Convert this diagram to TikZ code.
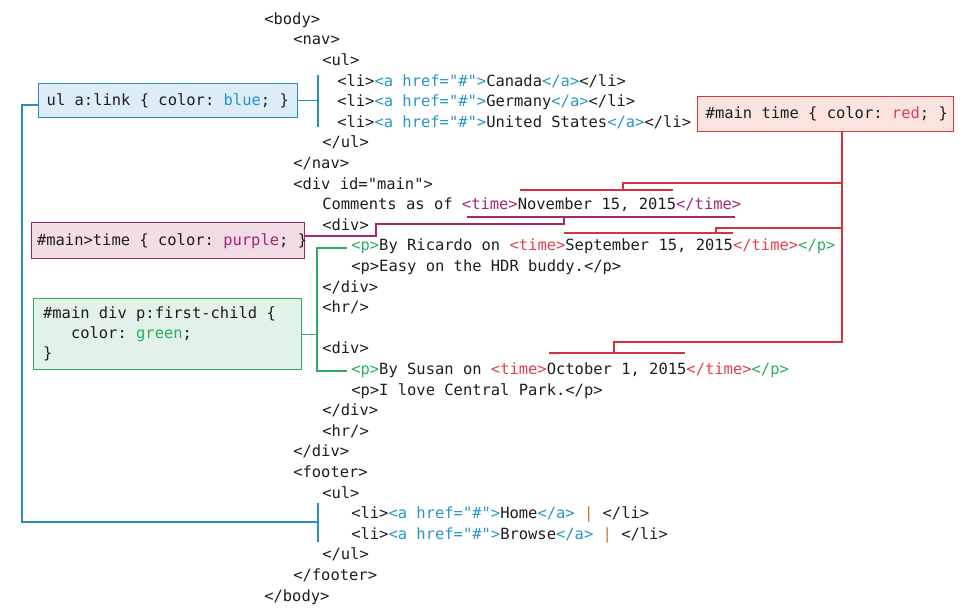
\documentclass[tikz,border=0pt]{standalone}
\usepackage{fontspec}
\setmonofont{DejaVu Sans Mono}
\usetikzlibrary{positioning}
\definecolor{ink}{RGB}{30,30,30}
\definecolor{lnkblue}{RGB}{40,150,200}
\definecolor{bluebd}{RGB}{40,140,190}
\definecolor{bluefill}{RGB}{220,237,247}
\definecolor{timred}{RGB}{225,65,80}
\definecolor{redbd}{RGB}{215,50,65}
\definecolor{redfill}{RGB}{251,228,222}
\definecolor{timpur}{RGB}{160,40,120}
\definecolor{purbd}{RGB}{160,40,110}
\definecolor{purfill}{RGB}{242,220,230}
\definecolor{pgrn}{RGB}{40,175,95}
\definecolor{grnbd}{RGB}{50,170,100}
\definecolor{grnfill}{RGB}{226,242,232}
\definecolor{pipe}{RGB}{190,120,60}
\newcommand\codefont{\ttfamily\fontsize{11.6}{15}\selectfont}
\newcommand\lnk[1]{\textcolor{lnkblue}{#1}}
\newcommand\tred[1]{\textcolor{timred}{#1}}
\newcommand\tpur[1]{\textcolor{timpur}{#1}}
\newcommand\pgr[1]{\textcolor{pgrn}{#1}}
\begin{document}
\begin{tikzpicture}[x=0.75pt,y=-0.75pt,
  code/.style={anchor=mid west,inner sep=0,font=\codefont,text=ink},
  cssbox/.style={draw,line width=1.1pt,anchor=north west,inner xsep=6pt,inner ysep=0,align=left,font=\codefont,text=ink},
  blueln/.style={draw=bluebd,line width=1.1pt},
  redln/.style={draw=redbd,line width=1.1pt},
  purln/.style={draw=purbd,line width=1.1pt},
  grnln/.style={draw=grnbd,line width=1.1pt}]
\useasboundingbox (0,0) rectangle (972,614);
\node[code] (body) at (264,21.5) {<body>};
\node[code] (nav) at (293,42.1) {<nav>};
\node[code] (navul) at (322,62.7) {<ul>};
\node[code] (ca) at (337,83.3) {<li>\lnk{<a href="\#">}Canada\lnk{</a>}</li>};
\node[code] (de) at (337,103.9) {<li>\lnk{<a href="\#">}Germany\lnk{</a>}</li>};
\node[code] (us) at (337,124.5) {<li>\lnk{<a href="\#">}United States\lnk{</a>}</li>};
\node[code] (navulend) at (322,145.1) {</ul>};
\node[code] (navend) at (293,165.7) {</nav>};
\node[code] (main) at (293,186.3) {<div id="main">};
\node[code] (comments) at (322,206.9) {Comments as of \tpur{<time>}November 15, 2015\tpur{</time>}};
\node[code] (diva) at (322,227.5) {<div>};
\node[code] (ricardo) at (351,248.1) {\pgr{<p>}By Ricardo on \tred{<time>}September 15, 2015\tred{</time>}\pgr{</p>}};
\node[code] (hdr) at (351,268.7) {<p>Easy on the HDR buddy.</p>};
\node[code] (divaend) at (322,289.3) {</div>};
\node[code] (hra) at (322,309.9) {<hr/>};
\node[code] (divb) at (322,351.1) {<div>};
\node[code] (susan) at (351,371.7) {\pgr{<p>}By Susan on \tred{<time>}October 1, 2015\tred{</time>}\pgr{</p>}};
\node[code] (park) at (351,392.3) {<p>I love Central Park.</p>};
\node[code] (divbend) at (322,412.9) {</div>};
\node[code] (hrb) at (322,433.5) {<hr/>};
\node[code] (mainend) at (293,454.1) {</div>};
\node[code] (footer) at (293,474.7) {<footer>};
\node[code] (footul) at (322,495.3) {<ul>};
\node[code] (home) at (351,515.9) {<li>\lnk{<a href="\#">}Home\lnk{</a>} \textcolor{pipe}{|} </li>};
\node[code] (browse) at (351,536.5) {<li>\lnk{<a href="\#">}Browse\lnk{</a>} \textcolor{pipe}{|} </li>};
\node[code] (footulend) at (322,557.1) {</ul>};
\node[code] (footerend) at (293,577.7) {</footer>};
\node[code] (bodyend) at (264,598.3) {</body>};
\node[cssbox,fill=bluefill,draw=bluebd,minimum height=25.5pt] (bbox) at (38,83) {\makebox[182.25pt][l]{ul a:link \{ color: \lnk{blue}; \}}};
\node[cssbox,fill=redfill,draw=redbd,minimum height=26.25pt] (rbox) at (697,96) {\makebox[180pt][l]{\#main time \{ color: \tred{red}; \}}};
\node[cssbox,fill=purfill,draw=purbd,minimum height=27pt,inner xsep=4pt] (pbox) at (31,222) {\makebox[196.5pt][l]{\#main>time \{ color: \tpur{purple}; \}}};
\node[cssbox,fill=grnfill,draw=grnbd,minimum height=53.25pt,inner xsep=7pt] (gbox) at (33,298) {\makebox[186.75pt][l]{\#main div p:first-child \{}\\\hphantom{xxx}color: \pgr{green};\\\}};
\coordinate (navtop) at (318,75);
\coordinate (navbot) at (318,127);
\coordinate (bturn) at (22,105);
\coordinate (foottop) at (318,503);
\coordinate (footmid) at (318,522);
\coordinate (footbot) at (318,542);
\draw[blueln] (navtop) -- (navbot);
\draw[blueln] (bbox.east) -- (bbox.east -| navtop);
\draw[blueln] (foottop) -- (footbot);
\draw[blueln] (bbox.west |- bturn) -- (bturn) |- (footmid);
\coordinate (rj1) at (842,183);
\coordinate (rj2) at (842,228);
\coordinate (rj3) at (842,342);
\coordinate (rt1) at (623,190);
\coordinate (rt2) at (716,233);
\coordinate (rt3) at (614,353);
\draw[redln] (rbox.south -| rj3) -- (rj3) -| (rt3);
\draw[redln] (rj1) -| (rt1);
\draw[redln] (rj2) -| (rt2);
\draw[redln] (520,190) -- (673,190);
\draw[redln] (564,233) -- (733,233);
\draw[redln] (549,353) -- (685,353);
\coordinate (pk) at (376,236);
\coordinate (pm) at (564,224);
\coordinate (pt) at (564,217);
\draw[purln] (pbox.east |- pk) -- (pk) |- (pm) -- (pt);
\draw[purln] (467,217) -- (735,217);
\coordinate (gt) at (347,248);
\coordinate (gk) at (317,333);
\coordinate (gb) at (347,371);
\draw[grnln] (gt) -| (gk) |- (gb);
\draw[grnln] (gbox.east) -- (gbox.east -| gk);
\end{tikzpicture}
\end{document}
